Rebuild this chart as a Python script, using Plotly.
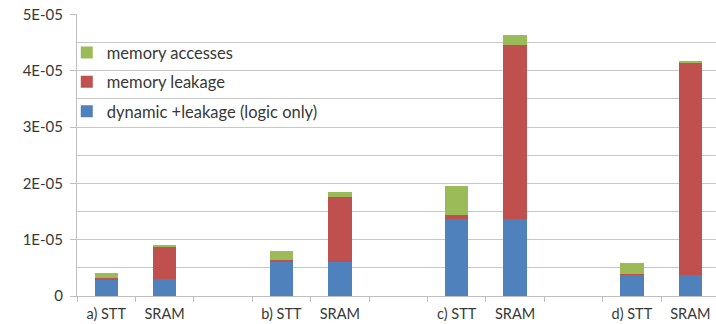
import plotly.graph_objects as go

categories = ["a) STT", "SRAM", "", "b) STT", "SRAM", "", "c) STT", "SRAM", "", "d) STT", "SRAM"]
logic = [3.0e-6, 3.0e-6, None, 6.1e-6, 6.0e-6, None, 13.65e-6, 13.65e-6, None, 3.8e-6, 3.8e-6]
mem_leak = [0.2e-6, 5.75e-6, None, 0.25e-6, 11.6e-6, None, 0.75e-6, 31.0e-6, None, 0.15e-6, 37.6e-6]
mem_acc = [0.9e-6, 0.3e-6, None, 1.7e-6, 0.8e-6, None, 5.15e-6, 1.75e-6, None, 1.85e-6, 0.25e-6]
y_tickvals = [0, 1e-5, 2e-5, 3e-5, 4e-5, 5e-5]
y_ticktext = ["0", "1E-05", "2E-05", "3E-05", "4E-05", "5E-05"]

x = list(range(len(categories)))
FONT = "Lato, 'Open Sans', sans-serif"
TXT = "#383838"
GRID = "#C8C8C8"

fig = go.Figure()
series = [
    ("dynamic +leakage (logic only)", logic, "#4F81BD", "g1", 3),
    ("memory leakage", mem_leak, "#C0504D", "g2", 2),
    ("memory accesses", mem_acc, "#9BBB59", "g3", 1),
]
for name, vals, col, grp, rank in series:
    fig.add_trace(go.Bar(x=x, y=vals, name=name, marker=dict(color=col, line=dict(width=0)),
                         width=0.4, legendgroup=grp, legendrank=rank))

fig.update_layout(
    width=716, height=324,
    margin=dict(l=77, r=0, t=14, b=28),
    barmode="stack",
    plot_bgcolor="white", paper_bgcolor="white",
    font=dict(family=FONT, size=16, color=TXT),
    legend=dict(x=-0.016, y=0.925, xanchor="left", yanchor="top",
                traceorder="grouped", tracegroupgap=5,
                bgcolor="rgba(0,0,0,0)", font=dict(size=16.5, color=TXT),
                itemwidth=30),
    xaxis=dict(range=[-0.5, 10.44], tickvals=x, ticktext=categories,
               showgrid=False, showline=True, linecolor="#BFBFBF", linewidth=1,
               ticks="", zeroline=False, ticklabelstandoff=5,
               minor=dict(tick0=-0.5, dtick=1, ticks="outside", ticklen=5, tickcolor="#BFBFBF"),
               tickfont=dict(size=14.5, color=TXT)),
    yaxis=dict(range=[0, 5.01e-5], tickvals=y_tickvals, ticktext=y_ticktext,
               showgrid=True, gridcolor=GRID, gridwidth=1,
               minor=dict(dtick=5e-6, tick0=0, showgrid=True, gridcolor=GRID, gridwidth=1),
               showline=True, linecolor="#BFBFBF", linewidth=1, zeroline=False,
               ticks="outside", ticklen=6, tickcolor="#BFBFBF", ticklabelstandoff=4,
               tickfont=dict(size=15, color=TXT)),
    bargap=0.6,
)

fig.write_html("out.html")
